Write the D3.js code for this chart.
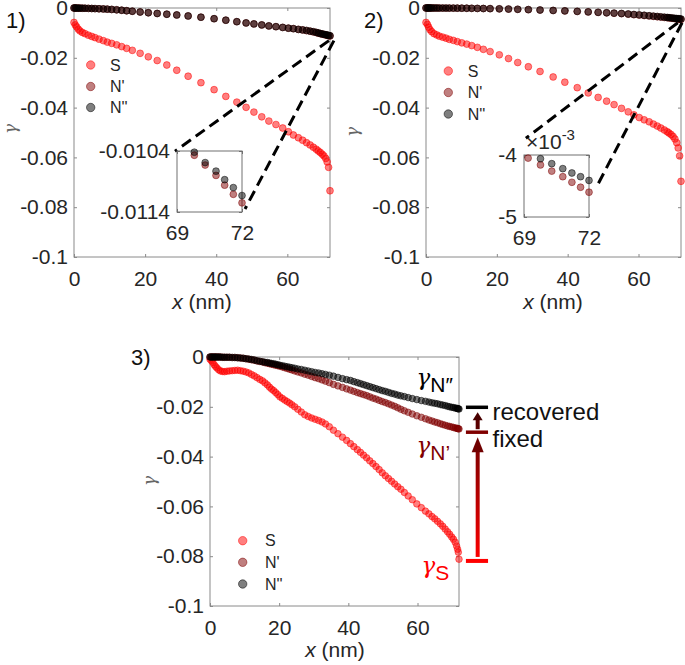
<!DOCTYPE html>
<html><head><meta charset="utf-8">
<script src="https://cdn.jsdelivr.net/npm/d3@7"></script>
<style>body{margin:0;background:#fff}svg{display:block}</style>
</head><body>
<script>
// ---------------- DATA ----------------
// Panel 1
const xP1 = [0,0.35,0.76,1.21,1.69,2.33,3.09,4.02,4.98,5.91,7.03,8.24,9.36,10.6,12.0,13.4,14.8,16.4,18.6,20.9,23.4,26.1,28.9,32.1,35.7,39.4,42.7,45.8,48.4,50.6,52.8,54.8,56.8,58.7,60.3,61.7,63.1,64.3,65.4,66.4,67.3,68.1,68.7,69.25,69.8,70.3,70.8,71.2,71.6,72.0];
const sP1 = [-0.0058,-0.0068,-0.0076,-0.0085,-0.0092,-0.0098,-0.0103,-0.0109,-0.0114,-0.0119,-0.0125,-0.0131,-0.0137,-0.0142,-0.0148,-0.0155,-0.0162,-0.0170,-0.0182,-0.0196,-0.0211,-0.0229,-0.0250,-0.0274,-0.0300,-0.0328,-0.0355,-0.0378,-0.0399,-0.0418,-0.0437,-0.0454,-0.0468,-0.0482,-0.0497,-0.0510,-0.0521,-0.0531,-0.0541,-0.0550,-0.0559,-0.0567,-0.0574,-0.0580,-0.0587,-0.0594,-0.0604,-0.0618,-0.0640,-0.0734];
const n1P1 = [0,-0.00001,-0.00002,-0.00004,-0.00006,-0.00008,-0.00011,-0.00015,-0.0002,-0.00025,-0.0003,-0.00038,-0.00046,-0.00058,-0.00072,-0.0009,-0.0011,-0.0013,-0.0016,-0.0019,-0.0022,-0.0025,-0.0028,-0.0032,-0.0037,-0.0043,-0.0049,-0.0055,-0.0060,-0.0064,-0.0068,-0.0072,-0.0075,-0.0078,-0.0081,-0.0083,-0.0086,-0.0088,-0.0091,-0.0093,-0.0096,-0.0098,-0.0101,-0.01029,-0.01047,-0.01063,-0.0108,-0.01096,-0.01111,-0.01125];
const n2P1 = [0,-0.00001,-0.00002,-0.00004,-0.00006,-0.00008,-0.00011,-0.00015,-0.0002,-0.00025,-0.0003,-0.00038,-0.00046,-0.00058,-0.00072,-0.0009,-0.0011,-0.0013,-0.0016,-0.0019,-0.0022,-0.0025,-0.0028,-0.0032,-0.0037,-0.0043,-0.0049,-0.0055,-0.0060,-0.0064,-0.0068,-0.0072,-0.0075,-0.0078,-0.0081,-0.0083,-0.0086,-0.0088,-0.0090,-0.0093,-0.0095,-0.0098,-0.0100,-0.01025,-0.01042,-0.01059,-0.01073,-0.01087,-0.01100,-0.01113];

// Panel 2
const xP2 = [0,0.4,0.75,1.13,1.61,2.26,3.02,3.77,4.72,5.65,6.58,7.71,8.84,10.1,11.5,12.9,14.5,16.2,18.1,20.7,23.3,25.9,28.9,32.2,35.9,39.2,42.7,45.8,48.6,51.0,53.1,55.2,57.1,58.7,60.2,61.6,63.0,64.2,65.3,66.3,67.3,68.1,68.6,69.19,69.76,70.28,70.79,71.21,71.61,72.0];
const sP2 = [-0.0058,-0.0066,-0.0077,-0.0087,-0.0095,-0.0103,-0.0108,-0.0113,-0.0117,-0.0121,-0.0126,-0.0130,-0.0135,-0.0140,-0.0145,-0.0151,-0.0158,-0.0166,-0.0175,-0.0188,-0.0203,-0.0219,-0.0236,-0.0255,-0.0277,-0.0298,-0.0320,-0.0341,-0.0359,-0.0374,-0.0388,-0.0403,-0.0417,-0.0429,-0.0440,-0.0449,-0.0457,-0.0466,-0.0474,-0.0482,-0.0490,-0.0497,-0.0502,-0.0508,-0.0516,-0.0526,-0.0541,-0.0562,-0.0594,-0.0696];
const n1P2 = [0,0,0,0,0,-0.00001,-0.00001,-0.00002,-0.00002,-0.00003,-0.00004,-0.00005,-0.00006,-0.00008,-0.0001,-0.00013,-0.00017,-0.00021,-0.00026,-0.00034,-0.00043,-0.00053,-0.00066,-0.00082,-0.001,-0.00118,-0.00138,-0.00159,-0.00177,-0.00195,-0.00211,-0.00227,-0.00247,-0.00268,-0.00284,-0.00302,-0.0032,-0.00336,-0.00351,-0.00365,-0.0038,-0.00389,-0.00396,-0.00405,-0.00416,-0.00426,-0.00435,-0.00444,-0.00452,-0.0046];
const n2P2 = [0,0,0,0,0,-0.00001,-0.00001,-0.00002,-0.00002,-0.00003,-0.00004,-0.00005,-0.00006,-0.00008,-0.0001,-0.00013,-0.00017,-0.00021,-0.00026,-0.00033,-0.00042,-0.00052,-0.00065,-0.0008,-0.00098,-0.00115,-0.00135,-0.00155,-0.00172,-0.0019,-0.00205,-0.0022,-0.0024,-0.0026,-0.00275,-0.00292,-0.0031,-0.00325,-0.0034,-0.00353,-0.00368,-0.0038,-0.00388,-0.00397,-0.00406,-0.00414,-0.00422,-0.00429,-0.00435,-0.00441];

// Panel 3
const xP3 = [0,0.4,0.8,1.2,1.6,2.0,2.5,3.0,3.6,4.2,4.9,5.6,6.4,7.2,8.0,8.8,9.6,10.4,11.2,12.0,12.8,13.6,14.4,15.2,15.9,16.6,17.2,17.8,18.4,19.0,19.6,20.2,20.9,21.6,22.3,23.0,23.7,24.5,25.4,26.4,27.4,28.4,29.4,30.4,31.4,32.4,33.4,34.5,35.7,37.0,38.3,39.5,40.6,41.6,42.6,43.5,44.4,45.3,46.2,47.1,48.0,48.9,49.8,50.7,51.6,52.5,53.4,54.3,55.2,56.2,57.3,58.5,59.8,61.1,62.3,63.3,64.2,65.0,65.8,66.6,67.3,68.0,68.7,69.3,69.9,70.4,70.9,71.3,71.6,71.8,72.0];
const sP3 = [-0.0009,-0.0015,-0.0022,-0.0031,-0.0038,-0.0044,-0.0051,-0.0056,-0.0058,-0.0059,-0.0057,-0.0056,-0.0055,-0.0054,-0.0053,-0.0055,-0.0057,-0.0060,-0.0064,-0.0070,-0.0076,-0.0083,-0.0090,-0.0096,-0.0104,-0.0112,-0.0121,-0.0129,-0.0135,-0.0143,-0.0151,-0.0160,-0.0166,-0.0173,-0.0179,-0.0185,-0.0192,-0.0200,-0.0210,-0.0221,-0.0232,-0.0239,-0.0245,-0.0250,-0.0255,-0.0261,-0.0269,-0.0280,-0.0294,-0.0308,-0.0322,-0.0335,-0.0348,-0.0360,-0.0372,-0.0383,-0.0394,-0.0405,-0.0417,-0.0428,-0.0440,-0.0452,-0.0465,-0.0477,-0.0488,-0.0499,-0.0510,-0.0521,-0.0531,-0.0544,-0.0558,-0.0573,-0.0590,-0.0605,-0.0619,-0.0630,-0.0641,-0.0650,-0.0660,-0.0670,-0.0680,-0.0691,-0.0702,-0.0712,-0.0723,-0.0732,-0.0744,-0.0759,-0.0772,-0.0784,-0.0812];
const n1P3 = [0,0,0,0,0,0,0,0,-0.0001,-0.0001,-0.0001,-0.0001,-0.0002,-0.0002,-0.0003,-0.0004,-0.0005,-0.0007,-0.0009,-0.0011,-0.0013,-0.0016,-0.0018,-0.0020,-0.0023,-0.0025,-0.0027,-0.0029,-0.0031,-0.0033,-0.0035,-0.0037,-0.0040,-0.0043,-0.0046,-0.0049,-0.0052,-0.0056,-0.0060,-0.0064,-0.0069,-0.0073,-0.0078,-0.0083,-0.0087,-0.0092,-0.0097,-0.0103,-0.0110,-0.0116,-0.0122,-0.0128,-0.0133,-0.0138,-0.0143,-0.0147,-0.0151,-0.0155,-0.0160,-0.0165,-0.0169,-0.0174,-0.0179,-0.0183,-0.0188,-0.0193,-0.0198,-0.0204,-0.0210,-0.0216,-0.0222,-0.0229,-0.0236,-0.0242,-0.0248,-0.0253,-0.0257,-0.0261,-0.0264,-0.0268,-0.0271,-0.0274,-0.0277,-0.0279,-0.0281,-0.0283,-0.0285,-0.0286,-0.0287,-0.0288,-0.0289];
const n2P3 = [0,0,0,0,0,0,0,0,-0.0001,-0.0001,-0.0001,-0.0001,-0.0002,-0.0002,-0.0003,-0.0004,-0.0005,-0.0007,-0.0008,-0.0010,-0.0012,-0.0015,-0.0017,-0.0019,-0.0021,-0.0022,-0.0024,-0.0026,-0.0027,-0.0029,-0.0031,-0.0033,-0.0035,-0.0037,-0.0039,-0.0041,-0.0043,-0.0045,-0.0048,-0.0050,-0.0053,-0.0056,-0.0059,-0.0062,-0.0064,-0.0067,-0.0070,-0.0073,-0.0077,-0.0082,-0.0087,-0.0091,-0.0094,-0.0099,-0.0103,-0.0107,-0.0111,-0.0115,-0.0119,-0.0123,-0.0127,-0.0131,-0.0135,-0.0138,-0.0142,-0.0146,-0.0149,-0.0153,-0.0156,-0.0159,-0.0163,-0.0167,-0.0171,-0.0175,-0.0178,-0.0181,-0.0184,-0.0186,-0.0188,-0.0191,-0.0193,-0.0195,-0.0198,-0.0200,-0.0202,-0.0203,-0.0205,-0.0206,-0.0207,-0.0208,-0.0209];

// ticks and labels
const yTicks = [0,-0.02,-0.04,-0.06,-0.08,-0.1];
const xTicks = [0,20,40,60];
const legendNames = ["S","N'","N''"];
const inset1YTicks = [-0.0114,-0.0104];
const inset2YTicks = [-0.005,-0.004];
const insetXTicks = [69,72];
// annotation levels in panel 3 (recovered, fixed, S end)
const levels3 = [-0.0202,-0.0302,-0.0819];

// ---------------- DRAW ----------------
const W = 685, H = 665;
const FONT = "'Liberation Sans', Arial, Helvetica, sans-serif";
const TXT = "#262626", AX = "#8a8a8a";
const COLORS = ["#ff0000","#800000","#000000"];
const svg = d3.select("body").append("svg").attr("width",W).attr("height",H)
  .attr("font-family",FONT);

function fmt(d){ return d===0 ? "0" : String(+d.toPrecision(6)); }

function drawAxes(x, y, o){
  const g = svg.append("g");
  const [x0,x1] = x.range(), [y0,y1] = y.range();
  g.append("rect").attr("x",x0).attr("y",y1).attr("width",x1-x0).attr("height",y0-y1)
    .attr("fill",o.bg||"none").attr("stroke",o.frame||AX).attr("stroke-width",1);
  const style = sel => {
    sel.select(".domain").remove();
    sel.selectAll(".tick line").attr("stroke",o.frame||AX);
    sel.selectAll(".tick text").attr("fill",TXT).attr("font-size",o.fs||21).attr("font-family",FONT);
  };
  g.append("g").attr("transform",`translate(${x0},0)`)
    .call(d3.axisLeft(y).tickValues(o.yt).tickSize(-3).tickPadding(o.yp||6).tickFormat(o.yf||fmt)).call(style);
  g.append("g").attr("transform",`translate(${x1},0)`)
    .call(d3.axisRight(y).tickValues(o.yt).tickSize(-3).tickFormat("")).call(style);
  g.append("g").attr("transform",`translate(0,${y0})`)
    .call(d3.axisBottom(x).tickValues(o.xt).tickSize(-3).tickPadding(o.xp||14).tickFormat(d=>String(d))).call(style);
  g.append("g").attr("transform",`translate(0,${y1})`)
    .call(d3.axisTop(x).tickValues(o.xt).tickSize(-3).tickFormat("")).call(style);
  return g;
}

function scatter(g, xs, ys, x, y, color, r, clip){
  const data = xs.map((d,i)=>[d,ys[i]]).filter(d => !clip ||
     (d[0]>=x.domain()[0]-1e-9 && d[0]<=x.domain()[1]+1e-9 && d[1]>=y.domain()[0]-1e-9 && d[1]<=y.domain()[1]+1e-9));
  g.append("g").selectAll("circle").data(data).join("circle")
    .attr("cx",d=>x(d[0])).attr("cy",d=>y(d[1])).attr("r",r)
    .attr("fill",color).attr("fill-opacity",0.5)
    .attr("stroke",color).attr("stroke-opacity",0.5).attr("stroke-width",1);
}

function legend(cx, cys, tx){
  const g = svg.append("g");
  legendNames.forEach((n,i)=>{
    g.append("circle").attr("cx",cx).attr("cy",cys[i]).attr("r",4.2)
      .attr("fill",COLORS[i]).attr("fill-opacity",0.5)
      .attr("stroke",COLORS[i]).attr("stroke-opacity",0.5);
    g.append("text").attr("x",tx).attr("y",cys[i]).attr("dominant-baseline","central")
      .attr("font-size",16).attr("fill",TXT).text(n);
  });
}

function xLabel(cx, by){
  const t = svg.append("text").attr("x",cx).attr("y",by).attr("text-anchor","middle")
    .attr("font-size",21).attr("fill",TXT);
  t.append("tspan").attr("font-style","italic").text("x");
  t.append("tspan").text(" (nm)");
}
function yLabel(cx, cy){
  svg.append("text").attr("transform",`translate(${cx},${cy}) rotate(-90)`)
    .attr("text-anchor","middle").attr("dominant-baseline","central")
    .attr("font-family","'DejaVu Serif', serif").attr("font-style","italic")
    .attr("font-size",17).attr("fill","#666").text("γ");
}
function panelLabel(x, y, s){
  svg.append("text").attr("x",x).attr("y",y).attr("font-size",22).attr("fill","#111").text(s);
}
function dashed(x, y, a, b){
  svg.append("line").attr("x1",x(a[0])).attr("y1",y(a[1])).attr("x2",x(b[0])).attr("y2",y(b[1]))
    .attr("stroke","#000").attr("stroke-width",3).attr("stroke-dasharray","11,6");
}

// ----- Panel 1 -----
const x1 = d3.scaleLinear().domain([0,72]).range([74,330]);
const y1 = d3.scaleLinear().domain([-0.1,0]).range([257,8]);
drawAxes(x1,y1,{yt:yTicks,xt:xTicks});
const g1 = svg.append("g");
scatter(g1,xP1,sP1,x1,y1,COLORS[0],3.4);
scatter(g1,xP1,n1P1,x1,y1,COLORS[1],3.4);
scatter(g1,xP1,n2P1,x1,y1,COLORS[2],3.4);
legend(90.7,[65,86.5,107.5],110);
xLabel(202,309); yLabel(10,129); panelLabel(6,28,"1)");
dashed(x1,y1,[71.7,-0.0131],[28.4,-0.0575]);
dashed(x1,y1,[73.1,-0.0131],[48.1,-0.0807]);
// inset 1
const ix1 = d3.scaleLinear().domain([69,72]).range([177,242]);
const iy1 = d3.scaleLinear().domain([-0.0114,-0.0104]).range([212,151]);
drawAxes(ix1,iy1,{yt:inset1YTicks,xt:insetXTicks,bg:"#fff",frame:"#707070",yp:7,xp:13});
const gi1 = svg.append("g");
scatter(gi1,xP1,n1P1,ix1,iy1,COLORS[1],3.4,true);
scatter(gi1,xP1,n2P1,ix1,iy1,COLORS[2],3.4,true);

// ----- Panel 2 -----
const x2 = d3.scaleLinear().domain([0,72]).range([426,681]);
const y2 = d3.scaleLinear().domain([-0.1,0]).range([257,8]);
drawAxes(x2,y2,{yt:yTicks,xt:xTicks});
const g2 = svg.append("g");
scatter(g2,xP2,sP2,x2,y2,COLORS[0],3.4);
scatter(g2,xP2,n1P2,x2,y2,COLORS[1],3.4);
scatter(g2,xP2,n2P2,x2,y2,COLORS[2],3.4);
legend(448.3,[71,92.5,114],467.7);
xLabel(553,309); yLabel(352,132); panelLabel(364,28,"2)");
dashed(x2,y2,[71.1,-0.0059],[28.2,-0.0523]);
dashed(x2,y2,[72.3,-0.0059],[48.0,-0.0723]);
// inset 2
const ix2 = d3.scaleLinear().domain([69,72]).range([524,589]);
const iy2 = d3.scaleLinear().domain([-0.005,-0.004]).range([217,155]);
drawAxes(ix2,iy2,{yt:inset2YTicks,xt:insetXTicks,bg:"#fff",frame:"#707070",yp:7,xp:13,
  yf:d=>String(Math.round(d*1000))});
const gi2 = svg.append("g");
scatter(gi2,xP2,n1P2,ix2,iy2,COLORS[1],3.4,true);
scatter(gi2,xP2,n2P2,ix2,iy2,COLORS[2],3.4,true);
{
  const t = svg.append("text").attr("x",526).attr("y",149).attr("font-size",21).attr("fill",TXT);
  t.append("tspan").text("×10");
  t.append("tspan").attr("font-size",15).attr("dy",-9).text("-3");
}

// ----- Panel 3 -----
const x3 = d3.scaleLinear().domain([0,72]).range([210,459]);
const y3 = d3.scaleLinear().domain([-0.1,0]).range([606,357]);
drawAxes(x3,y3,{yt:yTicks,xt:xTicks});
const g3 = svg.append("g");
scatter(g3,xP3,sP3,x3,y3,COLORS[0],3.3);
scatter(g3,xP3,n1P3,x3,y3,COLORS[1],3.3);
scatter(g3,xP3,n2P3,x3,y3,COLORS[2],3.3);
legend(242.7,[540.7,562.3,584],265);
xLabel(335,657); yLabel(149,481); panelLabel(131,365,"3)");

// annotation bars and arrows
const defs = svg.append("defs");
const grad = defs.append("linearGradient").attr("id","gArrow").attr("gradientUnits","userSpaceOnUse")
  .attr("x1",0).attr("x2",0).attr("y1",y3(levels3[2])).attr("y2",y3(levels3[1]));
grad.append("stop").attr("offset","0%").attr("stop-color","#ff0000");
grad.append("stop").attr("offset","100%").attr("stop-color","#6e0000");
const barColors = ["#000000","#800000","#ff0000"];
levels3.forEach((v,i)=>{
  svg.append("line").attr("x1",x3(74.0)).attr("x2",x3(80.4)).attr("y1",y3(v)).attr("y2",y3(v))
    .attr("stroke",barColors[i]).attr("stroke-width",i===2?4:3.5);
});
const ax = x3(77.4);
// big arrow (fixed)
{
  const yb = y3(levels3[2]) - 4, yt = y3(levels3[1]) + 5;
  svg.append("line").attr("x1",ax).attr("x2",ax).attr("y1",yb).attr("y2",yt+14)
    .attr("stroke","url(#gArrow)").attr("stroke-width",4);
  svg.append("path").attr("d",`M${ax-6},${yt+15}L${ax+6},${yt+15}L${ax},${yt}Z`).attr("fill","#700000");
}
// small arrow (recovered)
{
  const yb = y3(levels3[1]) - 3, yt = y3(levels3[0]) + 5;
  svg.append("line").attr("x1",ax).attr("x2",ax).attr("y1",yb).attr("y2",yt+7)
    .attr("stroke","#5a0000").attr("stroke-width",4);
  svg.append("path").attr("d",`M${ax-5},${yt+8}L${ax+5},${yt+8}L${ax},${yt}Z`).attr("fill","#4a0000");
}
svg.append("text").attr("x",492.5).attr("y",420).attr("font-size",24).attr("fill","#111").text("recovered");
svg.append("text").attr("x",492.5).attr("y",446.5).attr("font-size",24).attr("fill","#111").text("fixed");

function gammaLabel(x, yb, sub, color){
  const t = svg.append("text").attr("x",x).attr("y",yb).attr("fill",color);
  t.append("tspan").attr("font-family","'DejaVu Serif', serif").attr("font-style","italic")
    .attr("font-size",23).text("γ");
  t.append("tspan").attr("font-size",21).attr("dy",7).text(sub);
}
gammaLabel(416.5,385,"N″","#000");
gammaLabel(416.5,453,"N’","#800000");
gammaLabel(421.5,573,"S","#ff0000");
</script>
</body></html>
